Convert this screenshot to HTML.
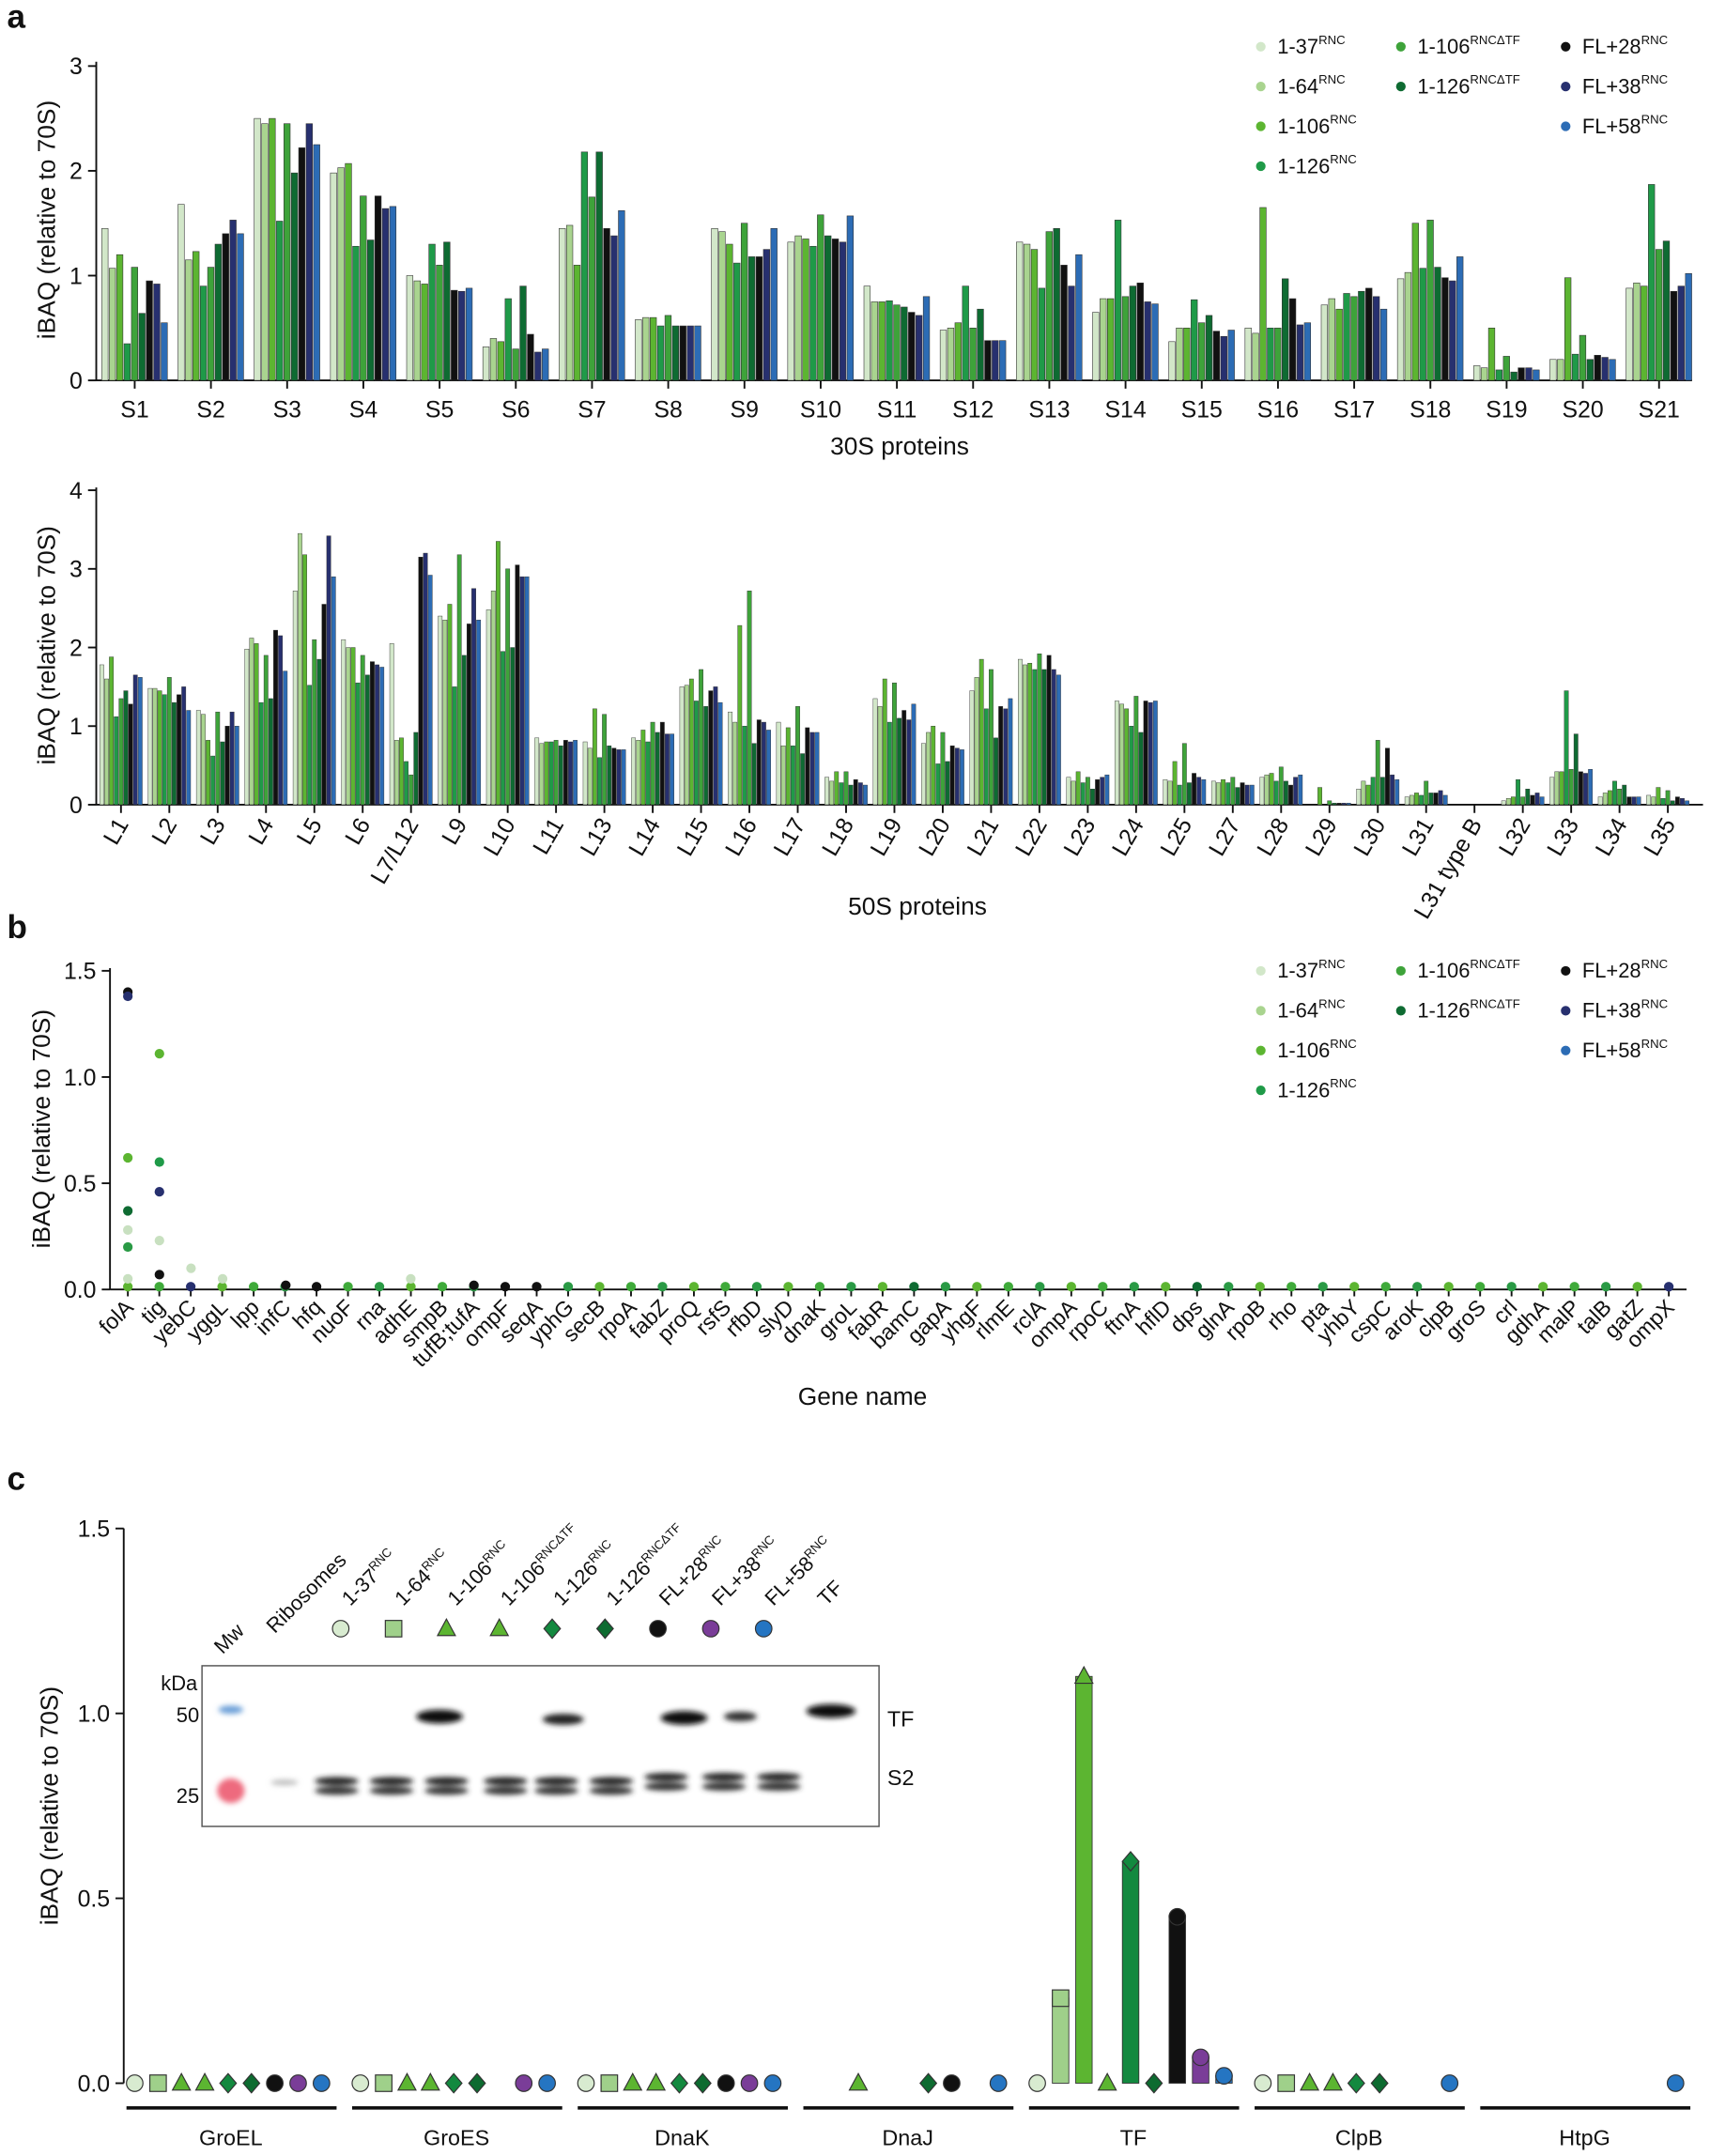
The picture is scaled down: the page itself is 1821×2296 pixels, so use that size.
<!DOCTYPE html>
<html><head><meta charset="utf-8"><style>body{margin:0;background:#fff}svg{display:block}text{font-family:"Liberation Sans",Arial,sans-serif;fill:#111}</style></head>
<body>
<svg id="s" width="1821" height="2296" viewBox="0 0 1245 1570" xmlns="http://www.w3.org/2000/svg">
<defs><filter id="bl" x="-50%" y="-50%" width="200%" height="200%"><feGaussianBlur stdDeviation="2"/></filter></defs>
</svg>
<script>
(function(){
const S=document.getElementById('s');let h='';
const C=['#d2e7c9','#a9d48f','#5cb531','#1f9a48','#3ea33a','#0e6b32','#111','#27306f','#2c6cb5'];
function t(x,y,s,sz,anc,extra){h+=`<text x="${x}" y="${y}" font-size="${sz}" text-anchor="${anc||'start'}" ${extra||''}>${s}</text>`;}
function L(x1,y1,x2,y2,w){h+=`<line x1="${x1}" y1="${y1}" x2="${x2}" y2="${y2}" stroke="#111" stroke-width="${w||1.3}"/>`;}
t(5,20,'a',24,'start','font-weight="bold"');t(5,683,'b',24,'start','font-weight="bold"');t(5,1085,'c',24,'start','font-weight="bold"');
function legend(yy){const cols=[[918,['1-37','1-64','1-106','1-126'],[0,1,2,3]],[1020,['1-106','1-126'],[4,5]],[1140,['FL+28','FL+38','FL+58'],[6,7,8]]];
cols.forEach(([x,lb,ci])=>lb.forEach((s,i)=>{const y=yy+i*29;h+=`<circle cx="${x}" cy="${y-5}" r="3.5" fill="${C[ci[i]]}"/>`;
const sup=(ci[i]==4||ci[i]==5)?'RNCΔTF':'RNC';h+=`<text x="${x+12}" y="${y}" font-size="15">${s}<tspan font-size="9" dy="-7">${sup}</tspan></text>`;}));}
legend(39);legend(712);
const topData=[[1.45,1.07,1.2,0.35,1.08,0.64,0.95,0.92,0.55],[1.68,1.15,1.23,0.9,1.08,1.3,1.4,1.53,1.4],[2.5,2.45,2.5,1.52,2.45,1.98,2.22,2.45,2.25],[1.98,2.03,2.07,1.28,1.76,1.34,1.76,1.64,1.66],[1.0,0.95,0.92,1.3,1.1,1.32,0.86,0.85,0.88],[0.32,0.4,0.37,0.78,0.3,0.9,0.44,0.27,0.3],[1.45,1.48,1.1,2.18,1.75,2.18,1.45,1.38,1.62],[0.58,0.6,0.6,0.52,0.62,0.52,0.52,0.52,0.52],[1.45,1.42,1.3,1.12,1.5,1.18,1.18,1.25,1.45],[1.32,1.38,1.35,1.28,1.58,1.38,1.35,1.32,1.57],[0.9,0.75,0.75,0.76,0.72,0.7,0.65,0.62,0.8],[0.48,0.5,0.55,0.9,0.5,0.68,0.38,0.38,0.38],[1.32,1.3,1.25,0.88,1.42,1.45,1.1,0.9,1.2],[0.65,0.78,0.78,1.53,0.8,0.9,0.93,0.75,0.73],[0.37,0.5,0.5,0.77,0.55,0.62,0.47,0.42,0.48],[0.5,0.45,1.65,0.5,0.5,0.97,0.78,0.53,0.55],[0.72,0.78,0.68,0.83,0.8,0.85,0.88,0.8,0.68],[0.97,1.03,1.5,1.07,1.53,1.08,0.98,0.95,1.18],[0.14,0.12,0.5,0.1,0.23,0.08,0.12,0.12,0.1],[0.2,0.2,0.98,0.25,0.43,0.2,0.24,0.22,0.2],[0.88,0.93,0.9,1.87,1.25,1.33,0.85,0.9,1.02]];
let y0=277,k=76.3;
L(70,45,70,y0);L(70,y0,1232,y0);
for(let v=0;v<=3;v++){const y=y0-v*k;L(64,y,70,y);t(60,y+6,v,17,'end');}
t(40,160,'iBAQ (relative to 70S)',18,'middle','transform="rotate(-90 40 160)"');
topData.forEach((g,j)=>{const c=98+j*55.5;L(c,y0,c,y0+6);t(c,y0+27,'S'+(j+1),17,'middle');
g.forEach((v,i)=>{h+=`<rect x="${c-24+i*5.4}" y="${y0-v*k}" width="4.6" height="${v*k}" fill="${C[i]}" stroke="#333" stroke-width="0.4"/>`;});});
t(655,331,'30S proteins',18,'middle');
const bl=['L1','L2','L3','L4','L5','L6','L7/L12','L9','L10','L11','L13','L14','L15','L16','L17','L18','L19','L20','L21','L22','L23','L24','L25','L27','L28','L29','L30','L31','L31 type B','L32','L33','L34','L35'];
const bot=[[1.78,1.6,1.88,1.12,1.35,1.45,1.28,1.65,1.62],[1.48,1.48,1.45,1.4,1.62,1.3,1.4,1.5,1.2],[1.2,1.15,0.82,0.62,1.18,0.8,1.0,1.18,1.0],[1.98,2.12,2.05,1.3,1.9,1.35,2.22,2.15,1.7],[2.72,3.45,3.18,1.52,2.1,1.85,2.55,3.42,2.9],[2.1,2.0,2.0,1.55,1.9,1.65,1.82,1.78,1.75],[2.05,0.82,0.85,0.55,0.38,0.92,3.15,3.2,2.92],[2.4,2.35,2.55,1.5,3.18,1.9,2.3,2.75,2.35],[2.48,2.72,3.35,1.95,3.0,2.0,3.05,2.9,2.9],[0.85,0.78,0.8,0.8,0.82,0.75,0.82,0.8,0.82],[0.8,0.72,1.22,0.6,1.15,0.75,0.72,0.7,0.7],[0.85,0.82,0.95,0.8,1.05,0.92,1.05,0.9,0.9],[1.5,1.52,1.6,1.32,1.72,1.25,1.45,1.5,1.3],[1.18,1.05,2.28,1.0,2.72,0.78,1.08,1.05,0.95],[1.05,0.75,0.98,0.75,1.25,0.65,0.98,0.92,0.92],[0.35,0.3,0.42,0.28,0.42,0.25,0.32,0.28,0.25],[1.35,1.25,1.6,1.05,1.55,1.1,1.2,1.08,1.28],[0.78,0.92,1.0,0.52,0.92,0.55,0.75,0.72,0.7],[1.45,1.62,1.85,1.22,1.72,0.85,1.25,1.22,1.35],[1.85,1.78,1.8,1.72,1.92,1.72,1.9,1.72,1.65],[0.35,0.3,0.42,0.28,0.35,0.2,0.32,0.35,0.38],[1.32,1.28,1.22,1.0,1.38,0.92,1.32,1.3,1.32],[0.32,0.3,0.55,0.25,0.78,0.28,0.4,0.35,0.32],[0.3,0.28,0.32,0.28,0.35,0.22,0.28,0.25,0.25],[0.35,0.38,0.4,0.3,0.48,0.3,0.25,0.35,0.38],[0,0,0.22,0,0.05,0.02,0.02,0.02,0.02],[0.2,0.3,0.25,0.35,0.82,0.35,0.72,0.38,0.32],[0.1,0.12,0.15,0.12,0.3,0.15,0.15,0.18,0.12],[0,0,0,0,0,0,0,0,0],[0.05,0.08,0.1,0.32,0.1,0.2,0.12,0.15,0.1],[0.35,0.42,0.42,1.45,0.45,0.9,0.42,0.4,0.45],[0.1,0.15,0.18,0.3,0.2,0.25,0.1,0.1,0.1],[0.12,0.1,0.22,0.08,0.18,0.05,0.1,0.08,0.05]];
y0=586;k=57.25;
L(70,355,70,y0);L(70,y0,1240,y0);
for(let v=0;v<=4;v++){const y=y0-v*k;L(64,y,70,y);t(60,y+6,v,17,'end');}
t(40,470,'iBAQ (relative to 70S)',18,'middle','transform="rotate(-90 40 470)"');
bot.forEach((g,j)=>{const c=88+j*35.2;L(c,y0,c,y0+6);const tx=c+6,ty=y0+14;t(tx,ty,bl[j],17,'end',`transform="rotate(-60 ${tx} ${ty})"`);
g.forEach((v,i)=>{h+=`<rect x="${c-15.5+i*3.5}" y="${y0-v*k}" width="3" height="${v*k}" fill="${C[i]}" stroke="#333" stroke-width="0.3"/>`;});});
t(668,666,'50S proteins',18,'middle');
const genes='folA tig yebC yggL lpp infC hfq nuoF rna adhE smpB tufB;tufA ompF seqA yphG secB rpoA fabZ proQ rsfS rfbD slyD dnaK groL fabR bamC gapA yhgF rlmE rclA ompA rpoC ftnA hflD dps glnA rpoB rho pta yhbY cspC aroK clpB groS crl gdhA malP talB gatZ ompX'.split(' ');
y0=939;k=154.7;
L(80,705,80,y0);L(80,y0,1228,y0);
for(let v=0;v<=3;v++){const y=y0-v*0.5*k;L(74,y,80,y);t(70,y+6,(v*0.5).toFixed(1),17,'end');}
t(36,822,'iBAQ (relative to 70S)',18,'middle','transform="rotate(-90 36 822)"');
const special={2:'#27306f',6:'#111',12:'#111',13:'#111',25:'#0e6b32',34:'#0e6b32',49:'#27306f'};
genes.forEach((g,j)=>{const c=93+j*22.9;L(c,y0,c,y0+5);const tx=c+5,ty=y0+14;t(tx,ty,g,16,'end',`transform="rotate(-45 ${tx} ${ty})"`);
const col=special[j]||(j%3==0?'#5cb531':(j%3==1?'#3faa3a':'#2a9a45'));
h+=`<circle cx="${c}" cy="${y0-2}" r="3.5" fill="${col}"/>`;});
const pts=[[93,1.4,'#111'],[93,1.38,'#27306f'],[93,0.62,'#5cb531'],[93,0.37,'#0e6b32'],[93,0.28,'#c8e0c0'],[93,0.2,'#2a9a45'],[93,0.05,'#c8e0c0'],[116,1.11,'#5cb531'],[116,0.6,'#1f9a48'],[116,0.46,'#27306f'],[116,0.23,'#c8e0c0'],[116,0.07,'#111'],[139,0.1,'#c8e0c0'],[162,0.05,'#c8e0c0'],[299,0.05,'#c8e0c0'],[208,0.02,'#111'],[345,0.02,'#111']];
pts.forEach(p=>{h+=`<circle cx="${p[0]}" cy="${y0-p[1]*k}" r="3.5" fill="${p[2]}"/>`;});
t(628,1023,'Gene name',18,'middle');
y0=1517;k=269.3;
L(90,1113,90,y0);
for(let v=0;v<=3;v++){const y=y0-v*0.5*k;L(84,y,90,y);t(80,y+6,(v*0.5).toFixed(1),17,'end');}
t(42,1315,'iBAQ (relative to 70S)',18,'middle','transform="rotate(-90 42 1315)"');
const cc=['#d8ebd0','#9fd08a','#5cb531','#5cb531','#13893f','#0d6b30','#111','#7a3d98','#2575c2'];
const shp=['c','s','t','t','d','d','c','c','c'];
function mk(x,y,i){const f=cc[i];if(shp[i]=='c')h+=`<circle cx="${x}" cy="${y}" r="6" fill="${f}" stroke="#333" stroke-width="0.8"/>`;
else if(shp[i]=='s')h+=`<rect x="${x-6}" y="${y-6}" width="12" height="12" fill="${f}" stroke="#333" stroke-width="0.8"/>`;
else if(shp[i]=='t')h+=`<polygon points="${x},${y-7} ${x-6.5},${y+5} ${x+6.5},${y+5}" fill="${f}" stroke="#333" stroke-width="0.8"/>`;
else h+=`<polygon points="${x},${y-7} ${x+6},${y} ${x},${y+7} ${x-6},${y}" fill="${f}" stroke="#333" stroke-width="0.8"/>`;}
const groups=['GroEL','GroES','DnaK','DnaJ','TF','ClpB','HtpG'];
const present=[[0,1,2,3,4,5,6,7,8],[0,1,2,3,4,5,7,8],[0,1,2,3,4,5,6,7,8],[2,5,6,8],[0,1,2,3,4,5,6,7,8],[0,1,2,3,4,5,8],[8]];
const tfv=[0,0.23,1.1,0,0.6,0,0.45,0.07,0.02];
groups.forEach((g,j)=>{const x0=90+j*164.3;h+=`<line x1="${x0+2}" y1="1535" x2="${x0+155}" y2="1535" stroke="#111" stroke-width="2.5"/>`;t(x0+78,1562,g,16,'middle');
present[j].forEach(i=>{const x=x0+8+i*17;let v=j==4?tfv[i]:0;const xx=j==6?1220:x;
if(v>0.01){h+=`<rect x="${xx-6}" y="${y0-v*k}" width="12" height="${v*k}" fill="${cc[i]}" stroke="#333" stroke-width="0.6"/>`;}
mk(xx,y0-v*k,i);});});
h+=`<rect x="147" y="1213" width="493" height="117" fill="#fff" stroke="#555" stroke-width="1"/>`;
t(117,1231,'kDa',15);t(145,1254,'50',15,'end');t(145,1313,'25',15,'end');t(646,1257,'TF',16);t(646,1300,'S2',16);
h+='<g filter="url(#bl)">'+
'<ellipse cx="168" cy="1245" rx="9" ry="3" fill="#6a9fd8"/><ellipse cx="168" cy="1304" rx="10" ry="9" fill="#ee6b7e"/>'+
'<ellipse cx="320" cy="1250" rx="17" ry="5" fill="#111"/><ellipse cx="410" cy="1252" rx="15" ry="4" fill="#222"/><ellipse cx="498" cy="1251" rx="17" ry="5" fill="#111"/><ellipse cx="539" cy="1250" rx="12" ry="3.5" fill="#333"/><ellipse cx="605" cy="1246" rx="18" ry="5" fill="#111"/>'+
'<ellipse cx="207" cy="1298" rx="10" ry="2" fill="#bbb"/>'+
[245,285,325,368,405,445,485,527,567].map((x,i)=>`<ellipse cx="${x}" cy="${1297-(i>5?3:0)}" rx="16" ry="3" fill="#222"/><ellipse cx="${x}" cy="${1304-(i>5?3:0)}" rx="16" ry="3" fill="#333"/>`).join('')+'</g>';
const lanes=['Mw','Ribosomes','1-37<tspan font-size="9" dy="-6">RNC</tspan>','1-64<tspan font-size="9" dy="-6">RNC</tspan>','1-106<tspan font-size="9" dy="-6">RNC</tspan>','1-106<tspan font-size="9" dy="-6">RNCΔTF</tspan>','1-126<tspan font-size="9" dy="-6">RNC</tspan>','1-126<tspan font-size="9" dy="-6">RNCΔTF</tspan>','FL+28<tspan font-size="9" dy="-6">RNC</tspan>','FL+38<tspan font-size="9" dy="-6">RNC</tspan>','FL+58<tspan font-size="9" dy="-6">RNC</tspan>','TF'];
lanes.forEach((s,i)=>{let x,y;if(i==0){x=162;y=1205;}else if(i==1){x=200;y=1190;}else{x=178+i*38.5;y=1170;}t(x,y,s,15,'start',`transform="rotate(-45 ${x} ${y})"`);});
[0,1,2,3,4,5,6,7,8].forEach(i=>mk(248+i*38.5,1186,i));
S.insertAdjacentHTML('beforeend',h);
})();
</script>
</body></html>
